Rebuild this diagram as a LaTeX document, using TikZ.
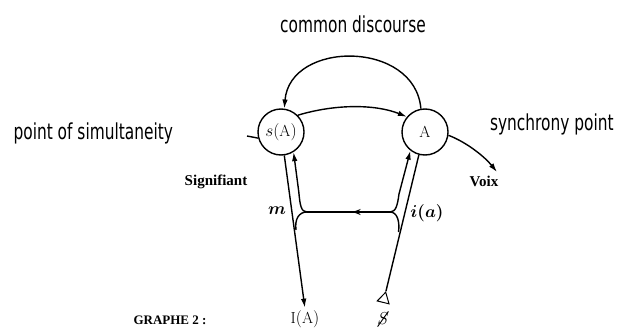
\documentclass[tikz,border=0pt]{standalone}
\usepackage{fontspec}
\usepackage{amsmath, amssymb}
\usepackage{tikz}
\usetikzlibrary{arrows.meta, positioning, decorations.markings, shapes.geometric}
\newfontfamily\condfont[FakeStretch=0.7]{DejaVu Sans}
\newfontfamily\bookfont{Liberation Serif}

\begin{document}
\begin{tikzpicture}[x=1pt, y=-1pt, line width=1.4pt,
    place/.style={circle, draw, minimum size=46pt, inner sep=0pt, font=\fontsize{16}{18}\selectfont},
    arr/.style={-{Latex[length=9pt,width=5.5pt]}},
    remark/.style={font=\condfont\fontsize{22}{24}\selectfont},
    tag/.style={font=\bookfont\bfseries\fontsize{15}{17}\selectfont},
    glyph/.style={font=\fontsize{16}{18}\selectfont, inner sep=1pt},
    midarrow/.style={postaction={decorate}, decoration={markings,
        mark=at position 0.45 with {\arrow{Stealth[length=8pt,width=6pt]}}}}]
  \useasboundingbox[fill=white] (0,0) rectangle (618,329);

  % the two points of the graph
  \node[place] (sA) at (281,132) {$s(\mathrm{A})$};
  \node[place] (A) at (425,132) {$\mathrm{A}$};

  % comments around it
  \node[remark] (disc) at (353,24) {common discourse};
  \node[remark, anchor=east] (simul) at (177,133) {point of simultaneity};
  \node[remark, anchor=west] (sync) at (486,124) {synchrony point};

  \node[tag] (sig) at (216,182) {Signifiant};
  \node[tag] (voix) at (484,181) {Voix};
  \node[font=\bookfont\bfseries\fontsize{13}{15}\selectfont] (graphe) at (170,320) {GRAPHE 2 :};

  \node[glyph] (m) at (277,211) {$\boldsymbol{m}$};
  \node[glyph] (ia) at (427,213) {$\boldsymbol{i(a)}$};
  \node[glyph] (IA) at (305,319) {$\mathrm{I(A)}$};
  \node[glyph] (bS) at (383,319) {$S$};
  \draw[line width=0.9pt] ([xshift=2pt]bS.south west) -- ([xshift=-2pt]bS.north east);
  \node[regular polygon, regular polygon sides=3, draw, minimum size=14pt, inner sep=0pt,
        line width=1pt, rotate=-14] (tri) at (384,299) {};

  \coordinate (stub) at (247,136);
  \coordinate (voixend) at (497,172);
  \coordinate (jl) at (307,212);
  \coordinate (jr) at (390,212);

  % upper arcs
  \draw[arr] (A.100) .. controls (415,40) and (290,40) .. (sA.82);
  \draw[arr] (sA.45) .. controls (335,104) and (375,104) .. (A.140);
  \draw (stub) -- (sA.195);
  \draw[arr] (A.-8) .. controls (466,142) and (484,156) .. (voixend);

  % left branch
  \draw[arr, shorten >=1pt] (sA.-82) -- (IA.north);
  \draw[arr] (jl) .. controls (301,212) and (300,205) .. (298.8,192) -- (sA.-58);
  \draw (jl) .. controls (299,212) and (294.5,219) .. (296,230);

  % right branch
  \draw (tri.corner 1) -- (A.-105);
  \draw[arr] (jr) .. controls (396,212) and (397.5,205) .. (399,194) -- (A.-128);
  \draw (jr) .. controls (397,212) and (400,221) .. (398.5,232);

  % the middle line
  \draw[midarrow] (jr) -- (jl);
\end{tikzpicture}
\end{document}
